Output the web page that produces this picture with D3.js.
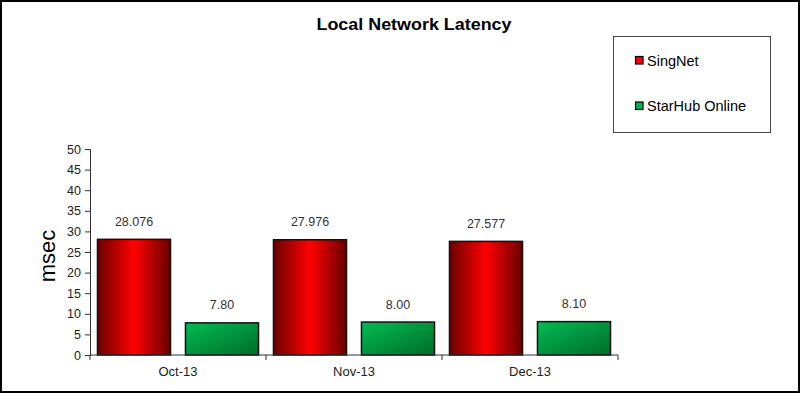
<!DOCTYPE html>
<html>
<head>
<meta charset="utf-8">
<script src="https://cdn.jsdelivr.net/npm/d3@7"></script>
<style>
  body { margin: 0; background: #fff; }
  svg { display: block; }
</style>
</head>
<body>
<script>
// data
let months = ['Oct-13', 'Nov-13', 'Dec-13'];
let seriesNames = ['SingNet', 'StarHub Online'];
let singNet = [28.076, 27.976, 27.577];
let starHub = [7.80, 8.00, 8.10];
let singNetLabels = ['28.076', '27.976', '27.577'];
let starHubLabels = ['7.80', '8.00', '8.10'];
let yTicks = [0, 5, 10, 15, 20, 25, 30, 35, 40, 45, 50];

let width = 800, height = 393;
let plot = { left: 90, right: 618, top: 149, bottom: 355 };

let svg = d3.select('body').append('svg').attr('width', width).attr('height', height)
    .style('font-family', 'Liberation Sans, Arial, sans-serif');

// gradients
let defs = svg.append('defs');
let redGrad = defs.append('linearGradient').attr('id', 'redGrad')
    .attr('x1', '0%').attr('y1', '0%').attr('x2', '100%').attr('y2', '0%');
redGrad.append('stop').attr('offset', '0%').attr('stop-color', '#6a0000');
redGrad.append('stop').attr('offset', '50%').attr('stop-color', '#ff0000');
redGrad.append('stop').attr('offset', '100%').attr('stop-color', '#6a0000');

let greenGrad = defs.append('linearGradient').attr('id', 'greenGrad')
    .attr('x1', '0%').attr('y1', '0%').attr('x2', '100%').attr('y2', '100%');
greenGrad.append('stop').attr('offset', '0%').attr('stop-color', '#00bc52');
greenGrad.append('stop').attr('offset', '100%').attr('stop-color', '#006c2a');

// outer frame
svg.append('rect').attr('x', 1).attr('y', 1).attr('width', width - 2).attr('height', height - 2)
    .attr('fill', '#fff').attr('stroke', '#000').attr('stroke-width', 2);

// title
svg.append('text').attr('x', 414).attr('y', 30).attr('text-anchor', 'middle')
    .attr('font-size', 17).attr('font-weight', 'bold').attr('fill', '#000')
    .attr('textLength', 195).attr('lengthAdjust', 'spacingAndGlyphs')
    .text('Local Network Latency');

// scales
let x0 = d3.scaleBand().domain(months).range([plot.left, plot.right]).padding(0);
let x1 = d3.scaleBand().domain(seriesNames).range([0, x0.bandwidth()])
    .paddingInner(0.17).paddingOuter(0.085);
let y = d3.scaleLinear().domain([0, 50]).range([plot.bottom, plot.top]);

// y axis
let yAxis = d3.axisLeft(y).tickValues(yTicks).tickSize(5).tickPadding(4);
let yG = svg.append('g').attr('transform', 'translate(' + plot.left + ',0)').call(yAxis);
yG.select('.domain').attr('stroke', '#333');
yG.selectAll('.tick line').attr('stroke', '#333');
yG.selectAll('.tick text').attr('font-size', 12.5).attr('fill', '#222')
    .style('font-family', 'Liberation Sans, Arial, sans-serif');

svg.append('text').attr('transform', 'translate(55,256) rotate(-90)')
    .attr('text-anchor', 'middle').attr('font-size', 22).attr('fill', '#000')
    .text('msec');

// bars
let data = months.map((m, i) => ({ month: m, values: [
    { name: seriesNames[0], value: singNet[i], label: singNetLabels[i], fill: 'url(#redGrad)' },
    { name: seriesNames[1], value: starHub[i], label: starHubLabels[i], fill: 'url(#greenGrad)' }
] }));

let groups = svg.selectAll('g.month').data(data).enter().append('g')
    .attr('class', 'month')
    .attr('transform', d => 'translate(' + x0(d.month) + ',0)');

groups.selectAll('rect').data(d => d.values).enter().append('rect')
    .attr('x', d => x1(d.name))
    .attr('y', d => y(d.value))
    .attr('width', x1.bandwidth())
    .attr('height', d => plot.bottom - y(d.value))
    .attr('fill', d => d.fill)
    .attr('stroke', '#111')
    .attr('stroke-width', 1.5);

groups.selectAll('text.val').data(d => d.values).enter().append('text')
    .attr('class', 'val')
    .attr('x', d => x1(d.name) + x1.bandwidth() / 2)
    .attr('y', d => y(d.value) - 13.5)
    .attr('text-anchor', 'middle').attr('font-size', 12.5).attr('fill', '#333')
    .text(d => d.label);

// x axis
let xAxisG = svg.append('g').attr('transform', 'translate(0,' + plot.bottom + ')');
xAxisG.append('line').attr('x1', plot.left).attr('x2', plot.right)
    .attr('stroke', '#333');
let boundaries = months.map(m => x0(m)).concat([plot.right]);
xAxisG.selectAll('line.tk').data(boundaries).enter().append('line')
    .attr('class', 'tk')
    .attr('x1', d => d).attr('x2', d => d).attr('y1', 0).attr('y2', 5)
    .attr('stroke', '#333');
xAxisG.selectAll('text').data(months).enter().append('text')
    .attr('x', d => x0(d) + x0.bandwidth() / 2)
    .attr('y', 20.5).attr('text-anchor', 'middle').attr('font-size', 13).attr('fill', '#222')
    .text(d => d);

// legend
let legend = svg.append('g');
legend.append('rect').attr('x', 613.5).attr('y', 36.5).attr('width', 157).attr('height', 96)
    .attr('fill', '#fff').attr('stroke', '#444').attr('stroke-width', 1);
let legendColors = ['#ff0000', '#00b050'];
let legendY = d3.scalePoint().domain(seriesNames).range([60.5, 106]);
legend.selectAll('rect.key').data(seriesNames).enter().append('rect')
    .attr('class', 'key')
    .attr('x', 635.5).attr('y', d => legendY(d) - 4)
    .attr('width', 7.5).attr('height', 7.5)
    .attr('fill', (d, i) => legendColors[i]).attr('stroke', '#000').attr('stroke-width', 1.2);
legend.selectAll('text').data(seriesNames).enter().append('text')
    .attr('x', 647).attr('y', d => legendY(d) + 5)
    .attr('font-size', 14.5).attr('fill', '#000')
    .text(d => d);
</script>
</body>
</html>
